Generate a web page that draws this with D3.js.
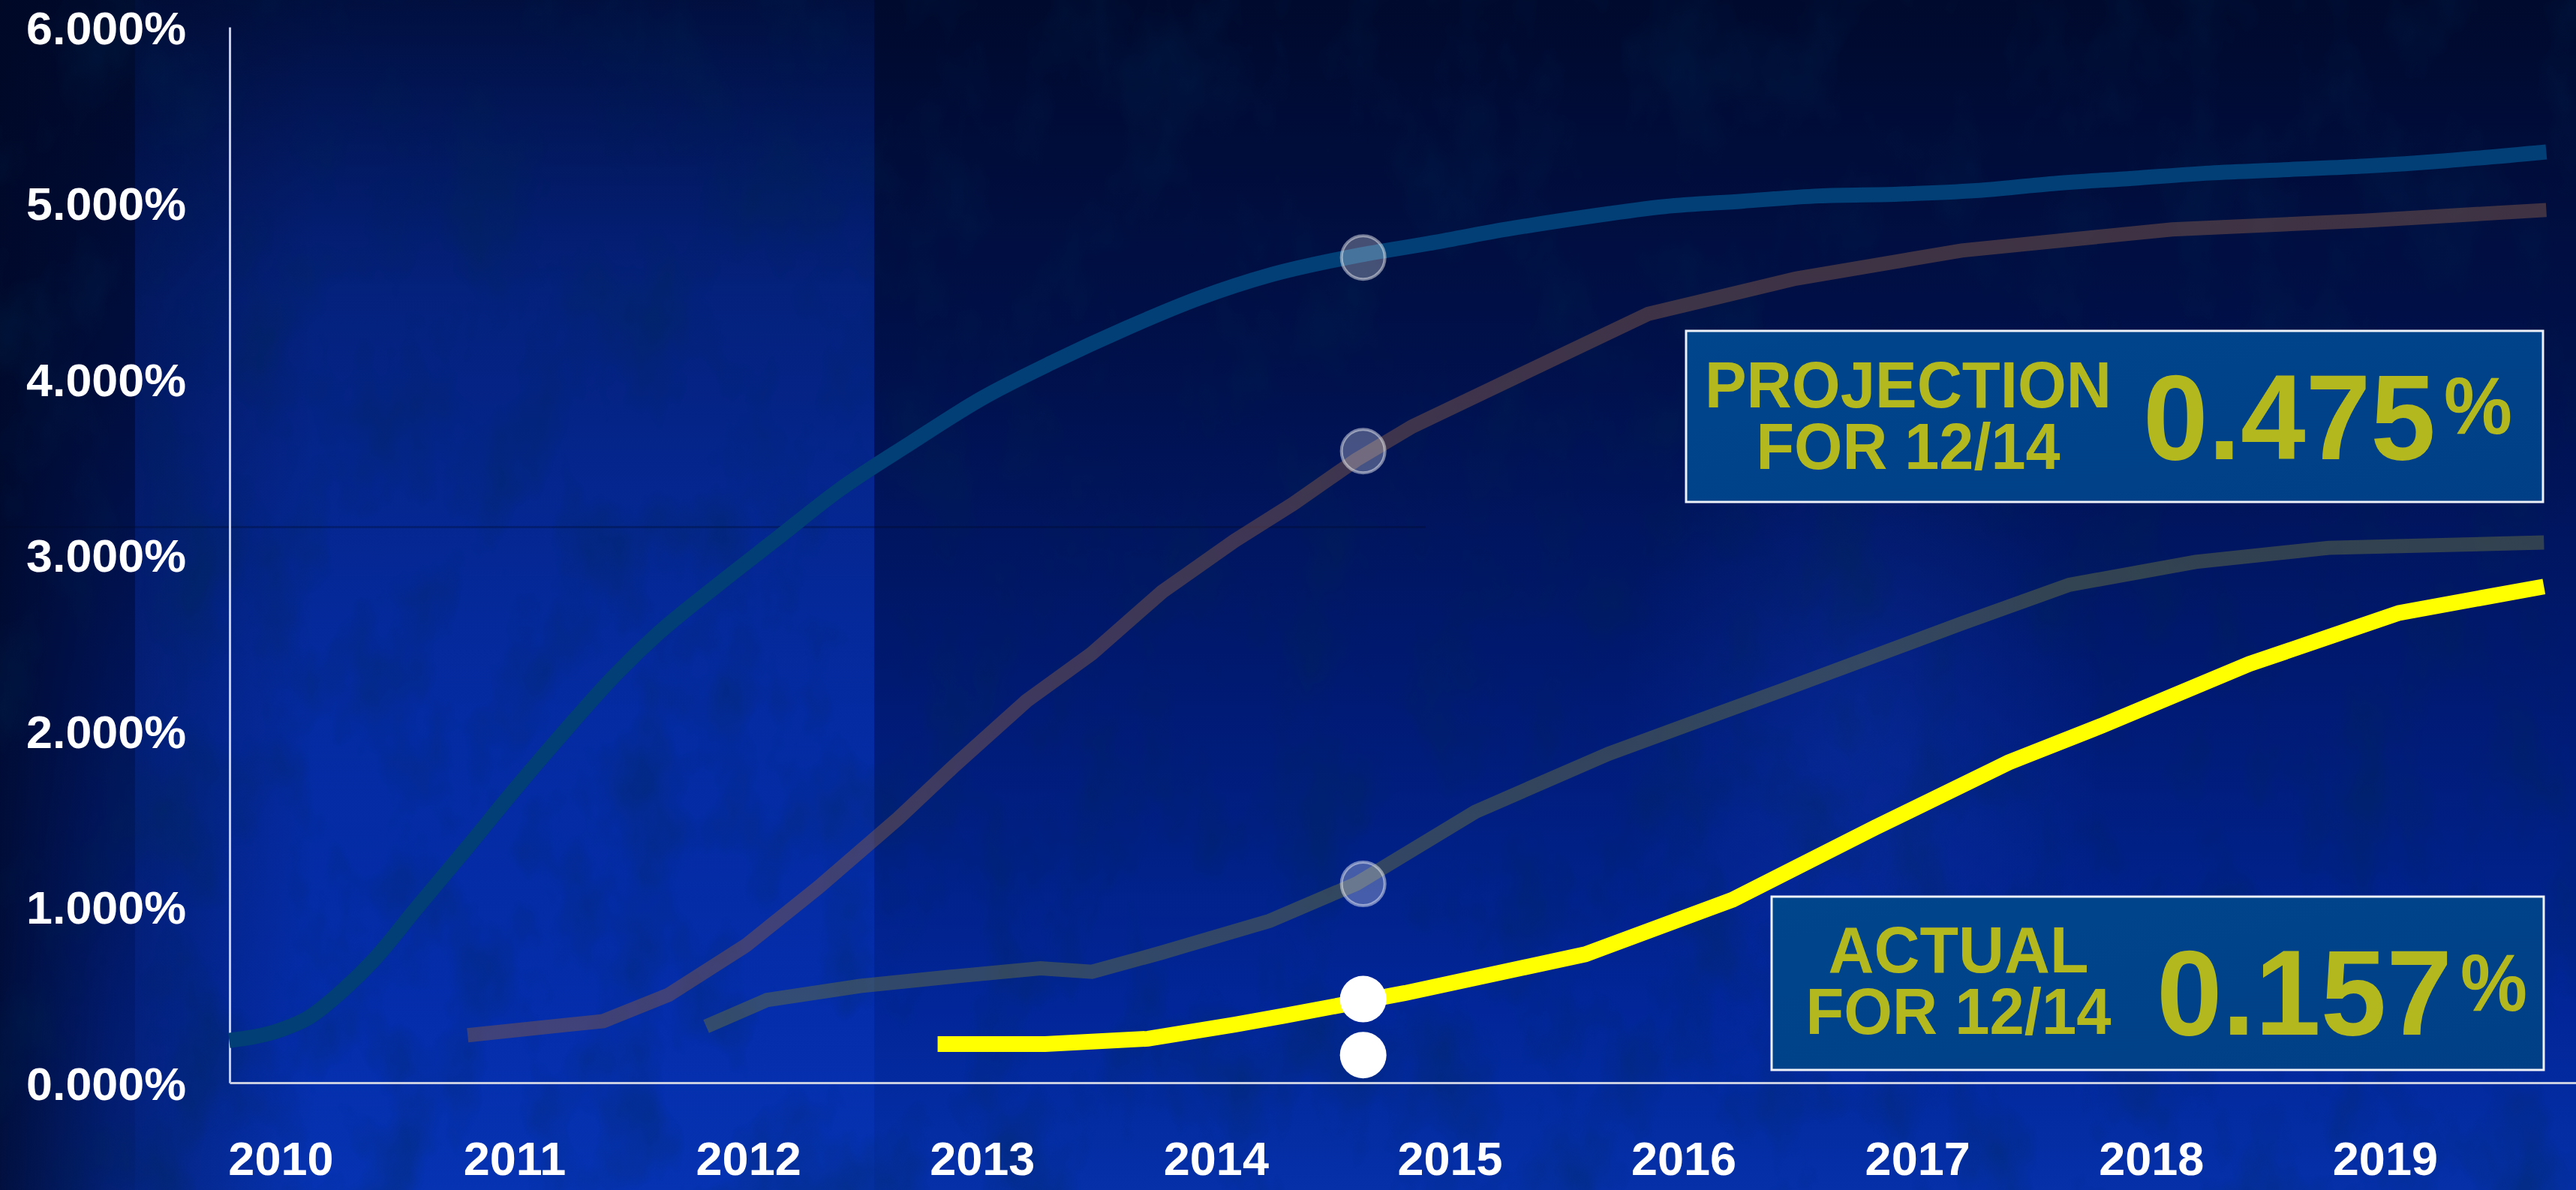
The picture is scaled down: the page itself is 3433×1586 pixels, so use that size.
<!DOCTYPE html>
<html>
<head>
<meta charset="utf-8">
<script src="https://cdn.jsdelivr.net/npm/d3@7"></script>
<style>
  html, body { margin: 0; padding: 0; background: #000a30; overflow: hidden; }
  svg { display: block; }
  text { font-family: "Liberation Sans", Arial, sans-serif; font-weight: bold; }
</style>
</head>
<body>
<script>
// ---- data -------------------------------------------------------------
const yearTicks = [2010, 2011, 2012, 2013, 2014, 2015, 2016, 2017, 2018, 2019];
const rateTicks = [0, 1, 2, 3, 4, 5, 6];

// forward rate paths: [year, rate %]
const blueCurve = [
  [2009.78, 0.24], [2010.00, 0.30], [2010.12, 0.37], [2010.27, 0.53], [2010.40, 0.70],
  [2010.58, 0.99], [2010.80, 1.34], [2011.01, 1.68], [2011.19, 1.96], [2011.44, 2.33],
  [2011.62, 2.56], [2011.87, 2.83], [2012.12, 3.09], [2012.39, 3.37], [2012.70, 3.64],
  [2013.00, 3.89], [2013.31, 4.10], [2013.62, 4.29], [2013.93, 4.46], [2014.23, 4.59],
  [2014.60, 4.70], [2014.91, 4.77], [2015.24, 4.85], [2015.58, 4.92], [2015.92, 4.98],
  [2016.25, 5.01], [2016.58, 5.04], [2016.92, 5.05], [2017.25, 5.07], [2017.58, 5.11],
  [2017.92, 5.14], [2018.25, 5.17], [2018.59, 5.19], [2018.92, 5.21], [2019.26, 5.24],
  [2019.69, 5.29]
];
const brownCurve = [
  [2010.80, 0.27], [2011.38, 0.35], [2011.66, 0.50], [2011.99, 0.78], [2012.30, 1.11],
  [2012.64, 1.50], [2012.88, 1.80], [2013.19, 2.17], [2013.47, 2.44], [2013.77, 2.79],
  [2014.08, 3.08], [2014.33, 3.29], [2014.60, 3.54], [2014.84, 3.73], [2015.85, 4.37],
  [2016.48, 4.57], [2017.19, 4.73], [2018.09, 4.85], [2018.92, 4.90], [2019.69, 4.96]
];
const slateCurve = [
  [2011.82, 0.32], [2012.08, 0.47], [2012.48, 0.55], [2012.85, 0.60], [2013.25, 0.65],
  [2013.47, 0.63], [2013.77, 0.74], [2014.23, 0.92], [2014.60, 1.13], [2015.11, 1.54],
  [2015.68, 1.87], [2016.42, 2.23], [2017.19, 2.61], [2017.65, 2.83], [2018.19, 2.96],
  [2018.76, 3.04], [2019.68, 3.07]
];
const yellowCurve = [
  [2012.81, 0.22], [2013.27, 0.22], [2013.71, 0.25], [2014.08, 0.33], [2014.29, 0.38],
  [2014.81, 0.51], [2015.58, 0.73], [2016.21, 1.04], [2016.82, 1.45], [2017.39, 1.82],
  [2017.79, 2.03], [2018.42, 2.38], [2019.06, 2.67], [2019.68, 2.82]
];

// December 2014 markers
const markerDate = 2014.63;
const earlierMarkers = [4.69, 3.59, 1.13];
const projectionValue = 0.475;
const actualValue = 0.157;
const calloutTitles = [["PROJECTION", "FOR 12/14"], ["ACTUAL", "FOR 12/14"]];
const calloutValues = [projectionValue, actualValue];

// ---- layout -----------------------------------------------------------
const W = 3433, H = 1586;
const plotLeft = 306, plotRight = 3433, plotTop = 36, plotBottom = 1443;

const x = d3.scaleLinear().domain([2009.782, 2019.817]).range([plotLeft, plotRight]);
const y = d3.scaleLinear().domain([0, 6]).range([plotBottom, plotTop]);

const svg = d3.select("body").append("svg")
  .attr("width", W).attr("height", H).attr("viewBox", `0 0 ${W} ${H}`);

// ---- background -------------------------------------------------------
const defs = svg.append("defs");

const bgV = defs.append("linearGradient").attr("id", "bgV")
  .attr("x1", 0).attr("y1", 0).attr("x2", 0).attr("y2", 1);
[[0, "#000a2e"], [0.3, "#00104a"], [0.6, "#001b76"], [0.85, "#022699"], [1, "#0530a8"]]
  .forEach(([o, c]) => bgV.append("stop").attr("offset", o).attr("stop-color", c));

const panel = defs.append("linearGradient").attr("id", "panel")
  .attr("x1", 0).attr("y1", 0).attr("x2", 0).attr("y2", 1);
[[0, 0.10], [0.25, 0.38], [0.6, 0.45], [1, 0.2]]
  .forEach(([o, a]) => panel.append("stop").attr("offset", o)
    .attr("stop-color", "#0a3fd8").attr("stop-opacity", a));

const vignette = defs.append("linearGradient").attr("id", "vignette")
  .attr("x1", 0).attr("y1", 0).attr("x2", 1).attr("y2", 0);
[[0, 0.8], [0.35, 0.4], [1, 0]]
  .forEach(([o, a]) => vignette.append("stop").attr("offset", o)
    .attr("stop-color", "#000825").attr("stop-opacity", a));

const glow = defs.append("radialGradient").attr("id", "glow");
glow.append("stop").attr("offset", 0).attr("stop-color", "#1848e0").attr("stop-opacity", 0.25);
glow.append("stop").attr("offset", 1).attr("stop-color", "#1848e0").attr("stop-opacity", 0);

const grunge = defs.append("filter").attr("id", "grunge")
  .attr("x", 0).attr("y", 0).attr("width", "100%").attr("height", "100%");
grunge.append("feTurbulence").attr("type", "fractalNoise")
  .attr("baseFrequency", "0.01 0.006").attr("numOctaves", 4).attr("seed", 11).attr("result", "n");
grunge.append("feColorMatrix").attr("in", "n").attr("type", "matrix")
  .attr("values", "0 0 0 0 0  0 0 0 0 0.02  0 0 0 0 0.08  -2.4 0 0 0 1.3");

const boxFill = defs.append("linearGradient").attr("id", "boxFill")
  .attr("x1", 0).attr("y1", 0).attr("x2", 1).attr("y2", 1);
boxFill.append("stop").attr("offset", 0).attr("stop-color", "#00468d");
boxFill.append("stop").attr("offset", 1).attr("stop-color", "#003f86");

const bg = svg.append("g");
bg.append("rect").attr("width", W).attr("height", H).attr("fill", "url(#bgV)");
bg.append("rect").attr("x", 180).attr("y", 0).attr("width", 985).attr("height", H)
  .attr("fill", "url(#panel)");
bg.append("ellipse").attr("cx", 2480).attr("cy", 980).attr("rx", 320).attr("ry", 520)
  .attr("fill", "url(#glow)");
bg.append("rect").attr("width", 420).attr("height", H).attr("fill", "url(#vignette)");
bg.append("rect").attr("width", W).attr("height", H).attr("filter", "url(#grunge)")
  .attr("opacity", 0.35);
bg.append("rect").attr("x", 0).attr("y", 701).attr("width", 1900).attr("height", 3)
  .attr("fill", "#000a28").attr("opacity", 0.3);

// ---- axes -------------------------------------------------------------
const axisColor = "#c9cfe0";

const yAxis = svg.append("g").attr("transform", `translate(${plotLeft},0)`)
  .call(d3.axisLeft(y).tickValues(rateTicks)
    .tickFormat(d => d3.format(".3f")(d) + "%")
    .tickSize(0).tickSizeOuter(0).tickPadding(58));
yAxis.select(".domain").attr("stroke", axisColor).attr("stroke-width", 3);
yAxis.selectAll("text")
  .attr("fill", "#ffffff").attr("font-size", 62).attr("dy", "0.36em")
  .attr("textLength", 213).attr("lengthAdjust", "spacingAndGlyphs");

const xAxis = svg.append("g").attr("transform", `translate(0,${plotBottom})`)
  .call(d3.axisBottom(x).tickValues(yearTicks).tickFormat(d3.format("d"))
    .tickSize(0).tickSizeOuter(0).tickPadding(78));
xAxis.select(".domain").attr("stroke", axisColor).attr("stroke-width", 3);
xAxis.selectAll("text").attr("fill", "#ffffff").attr("font-size", 63);
svg.selectAll(".domain").attr("fill", "none");

// ---- rate paths -------------------------------------------------------
const line = d3.line().x(d => x(d[0])).y(d => y(d[1]));
const smooth = d3.line().x(d => x(d[0])).y(d => y(d[1])).curve(d3.curveMonotoneX);

const paths = svg.append("g").attr("fill", "none").attr("stroke-linejoin", "miter");
paths.append("path").datum(blueCurve).attr("d", smooth)
  .attr("stroke", "#013f76").attr("stroke-width", 20).attr("stroke-linejoin", "round");
paths.append("path").datum(brownCurve).attr("d", line)
  .attr("stroke", "#7c5548").attr("stroke-opacity", 0.5).attr("stroke-width", 19);
paths.append("path").datum(slateCurve).attr("d", line)
  .attr("stroke", "#5f6a44").attr("stroke-opacity", 0.52).attr("stroke-width", 19);
paths.append("path").datum(yellowCurve).attr("d", line)
  .attr("stroke", "#ffff00").attr("stroke-width", 21);

// ---- December 2014 markers -------------------------------------------
svg.append("g").selectAll("circle").data(earlierMarkers).join("circle")
  .attr("cx", x(markerDate)).attr("cy", d => y(d)).attr("r", 29)
  .attr("fill", "#ffffff").attr("fill-opacity", 0.27)
  .attr("stroke", "#ffffff").attr("stroke-opacity", 0.45).attr("stroke-width", 4);

svg.append("g").selectAll("circle").data([projectionValue, actualValue]).join("circle")
  .attr("cx", x(markerDate)).attr("cy", d => y(d)).attr("r", 31)
  .attr("fill", "#ffffff");

// ---- callout boxes ----------------------------------------------------
const calloutLayout = [
  { x: 2247, y: 441, w: 1142, h: 228, cx: 2543, b1: 543, b2: 625, w1: 542, w2: 405,
    nx: 2856, nw: 390, nb: 612, px: 3257, pw: 91, pb: 578 },
  { x: 2361, y: 1195, w: 1029, h: 231, cx: 2610, b1: 1296, b2: 1378, w1: 347, w2: 407,
    nx: 2874, nw: 394, nb: 1379, px: 3279, pw: 89, pb: 1347 }
];
const textColor = "#b3b81f";

calloutLayout.forEach((L, i) => {
  const g = svg.append("g");
  g.append("rect").attr("x", L.x).attr("y", L.y).attr("width", L.w).attr("height", L.h)
    .attr("fill", "url(#boxFill)").attr("stroke", "#eef1f8").attr("stroke-width", 3);

  // two-line title
  const title = g.append("text").attr("text-anchor", "middle")
    .attr("font-size", 88).attr("fill", textColor);
  title.append("tspan").attr("x", L.cx).attr("y", L.b1)
    .attr("textLength", L.w1).attr("lengthAdjust", "spacingAndGlyphs")
    .text(calloutTitles[i][0]);
  title.append("tspan").attr("x", L.cx).attr("y", L.b2)
    .attr("textLength", L.w2).attr("lengthAdjust", "spacingAndGlyphs")
    .text(calloutTitles[i][1]);

  // value with raised percent sign
  const value = g.append("text").attr("fill", textColor);
  value.append("tspan").attr("x", L.nx).attr("y", L.nb).attr("font-size", 161)
    .attr("textLength", L.nw).attr("lengthAdjust", "spacingAndGlyphs")
    .text(d3.format(".3f")(calloutValues[i]));
  value.append("tspan").attr("x", L.px).attr("y", L.pb).attr("font-size", 107)
    .attr("textLength", L.pw).attr("lengthAdjust", "spacingAndGlyphs")
    .text("%");
});
</script>
</body>
</html>
